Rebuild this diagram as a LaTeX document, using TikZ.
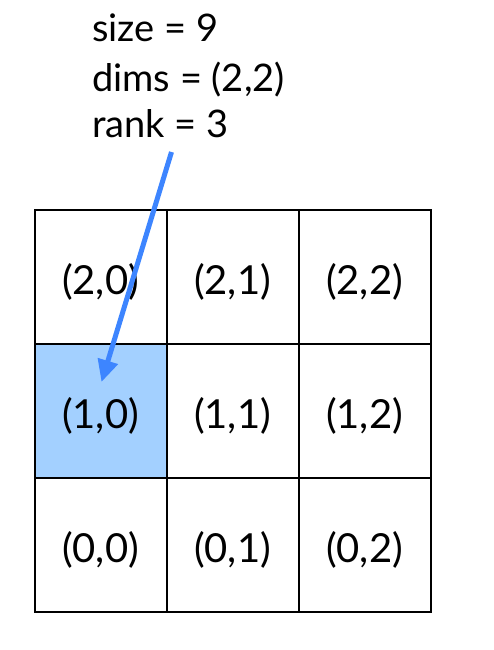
\documentclass[tikz,border=0pt]{standalone}
\usepackage{fontspec}
\setmainfont{Lato}
\usetikzlibrary{arrows.meta}
\definecolor{cellblue}{HTML}{A3D0FF}
\definecolor{arrowblue}{HTML}{3D85FF}
\begin{document}
\begin{tikzpicture}[x=1pt,y=-1pt,
  cell/.style={draw=black,line width=2pt,minimum width=132pt,minimum height=134pt,inner sep=0pt},
  celltext/.style={inner sep=0pt,font=\fontsize{40}{44}\selectfont},
  info/.style={anchor=base west,inner sep=0pt,font=\fontsize{38}{42}\selectfont}]
\useasboundingbox (0,0) rectangle (493,650);
\fill[cellblue] (35,344) rectangle (166.5,478);
\foreach \r/\y in {2/277,1/411,0/545}{
  \foreach \c/\x in {0/100.5,1/232.5,2/364.5}{
    \node[cell] (c\r\c) at (\x,\y) {};
    \node[celltext] (l\r\c) at ([yshift=-5pt]c\r\c.center) {(\r,\c)};
  }
}
\node[info] (t1) at (92,42) {size = 9};
\node[info] (t2) at (92,92) {dims = (2,2)};
\node[info] (t3) at (92,138) {rank = 3};
\coordinate (s) at (171.5,152);
\coordinate (e) at (101.5,382);
\draw[arrowblue,line width=5pt,-{Triangle[length=22pt,width=20pt]}] (s) -- (e);
\end{tikzpicture}
\end{document}
